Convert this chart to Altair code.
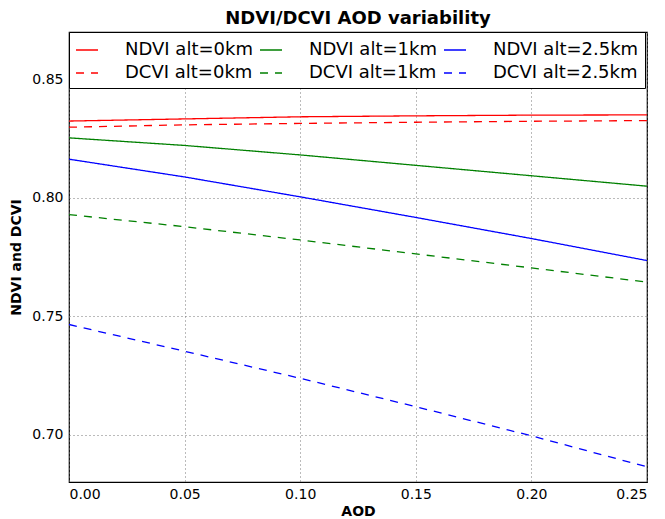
import altair as alt
import pandas as pd

aod = [0.00, 0.05, 0.10, 0.15, 0.20, 0.25]

# legend is filled column by column (2 rows x 3 columns)
series_names = [
    "NDVI alt=0km", "DCVI alt=0km",
    "NDVI alt=1km", "DCVI alt=1km",
    "NDVI alt=2.5km", "DCVI alt=2.5km",
]
ndvi_0km = [0.8324, 0.8333, 0.8342, 0.8346, 0.8349, 0.8350]
dcvi_0km = [0.8298, 0.8308, 0.8314, 0.8319, 0.8323, 0.8326]
ndvi_1km = [0.8253, 0.8221, 0.8181, 0.8137, 0.8093, 0.8049]
dcvi_1km = [0.7929, 0.7878, 0.7822, 0.7763, 0.7704, 0.7644]
ndvi_25km = [0.8163, 0.8088, 0.8004, 0.7917, 0.7828, 0.7735]
dcvi_25km = [0.7465, 0.7352, 0.7238, 0.7118, 0.6995, 0.6864]

values = [ndvi_0km, dcvi_0km, ndvi_1km, dcvi_1km, ndvi_25km, dcvi_25km]
colors = ["#ff0000", "#ff0000", "#008000", "#008000", "#0000ff", "#0000ff"]
dashes = [[1, 0], [8, 7], [1, 0], [8, 7], [1, 0], [8, 7]]

rows = []
for name, vals in zip(series_names, values):
    for x, y in zip(aod, vals):
        rows.append({"AOD": x, "value": y, "series": name})
df = pd.DataFrame(rows)

FONT = "DejaVu Sans"

legend = alt.Legend(
    orient="none", legendX=0, legendY=0, columns=3, title=None,
    fillColor="white", strokeColor="black",
    padding=6, symbolType="stroke", symbolSize=484, symbolStrokeWidth=1.3,
    labelFontSize=18, labelFont=FONT, labelColor="black", labelOffset=26,
    rowPadding=2, columnPadding=4, labelLimit=400,
)

chart = alt.Chart(df).mark_line(strokeWidth=1.3, clip=True).encode(
    x=alt.X("AOD:Q", scale=alt.Scale(domain=[0, 0.25], nice=False),
            axis=alt.Axis(values=[0, 0.05, 0.10, 0.15, 0.20, 0.25], format=".2f",
                          title="AOD")),
    y=alt.Y("value:Q", scale=alt.Scale(domain=[0.68, 0.87], nice=False, zero=False),
            axis=alt.Axis(values=[0.70, 0.75, 0.80, 0.85], format=".2f",
                          title="NDVI and DCVI")),
    color=alt.Color("series:N", sort=series_names,
                    scale=alt.Scale(domain=series_names, range=colors), legend=legend),
    strokeDash=alt.StrokeDash("series:N", sort=series_names,
                              scale=alt.Scale(domain=series_names, range=dashes), legend=legend),
).properties(
    width=578, height=450,
    title=alt.Title("NDVI/DCVI AOD variability", font=FONT, fontSize=18,
                    fontWeight="bold", color="black", offset=4),
    autosize=alt.AutoSizeParams(type="none"),
    padding={"left": 61, "top": 24, "right": 10, "bottom": 35},
).configure_view(
    stroke="black", strokeWidth=1.2
).configure_axis(
    labelFont=FONT, labelFontSize=14, labelColor="black",
    titleFont=FONT, titleFontSize=14, titleFontWeight="bold", titleColor="black",
    grid=True, gridColor="#777777", gridDash=[1, 3], gridWidth=1,
    ticks=False, domain=False, labelPadding=6,
).configure_axisX(
    labelPadding=5, titlePadding=3
).configure_axisY(
    titlePadding=8
)

chart.save("out.html", embed_options={"renderer": "svg", "actions": False})
